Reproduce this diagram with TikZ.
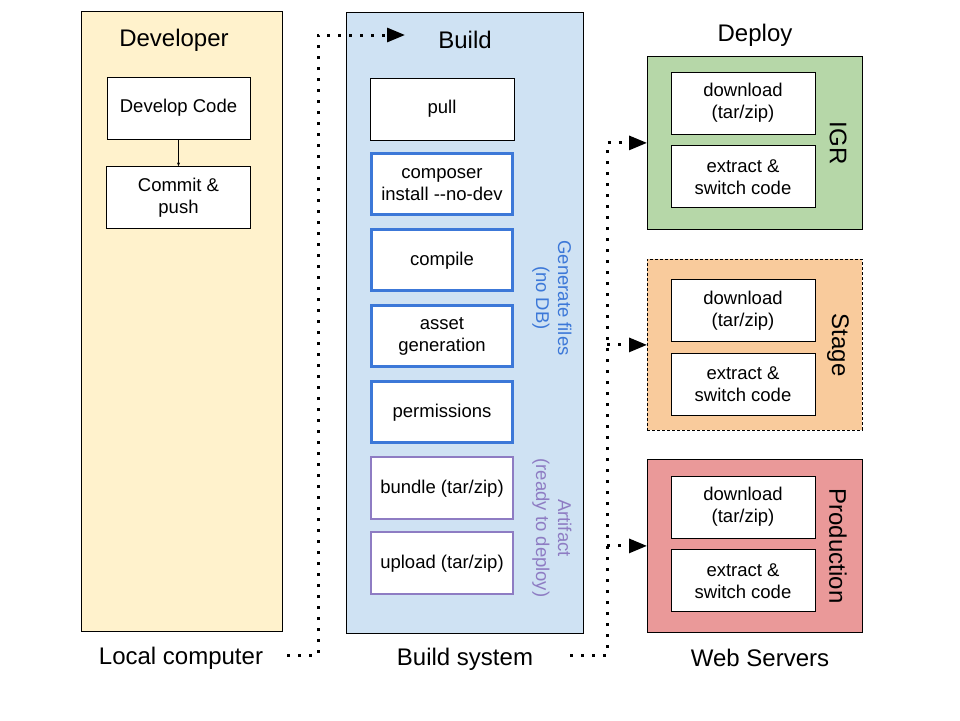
\documentclass[tikz,border=0pt]{standalone}
\usepackage{fontspec}
\setmainfont{Liberation Sans}
\usetikzlibrary{arrows.meta, positioning}
\definecolor{devyellow}{HTML}{FFF2CC}
\definecolor{buildblue}{HTML}{CFE2F3}
\definecolor{genblue}{HTML}{3C78D8}
\definecolor{artpurple}{HTML}{8E7CC3}
\definecolor{igrgreen}{HTML}{B6D7A8}
\definecolor{stageorange}{HTML}{F9CB9C}
\definecolor{prodred}{HTML}{EA9999}

\begin{document}
\begin{tikzpicture}[
    x=1pt, y=-1pt,
    node distance=12pt and 12pt,
    font=\fontsize{18.5}{22}\selectfont,
    panel/.style={draw, line width=0.8pt, anchor=north west, inner sep=0pt},
    step box/.style={draw, fill=white, line width=0.8pt, align=center, minimum width=144pt, minimum height=62pt, inner sep=0pt},
    gen box/.style={step box, draw=genblue, line width=3pt, minimum width=141pt, minimum height=61pt},
    art box/.style={step box, draw=artpurple, line width=2pt, minimum width=142pt, minimum height=62pt},
    title/.style={font=\fontsize{24}{28}\selectfont},
    side label/.style={rotate=-90, align=center},
    dot line/.style={line width=3pt, dash pattern=on 3pt off 8pt, -{Triangle[length=18pt, width=14pt]}}
]
    \useasboundingbox (0,0) rectangle (960,720);

    % Developer
    \node[panel, fill=devyellow, minimum width=201pt, minimum height=620pt] (devpanel) at (81,11) {};
    \node[title] (devtitle) at (174,40) {Developer};
    \node[step box, minimum width=143pt] (develop) at (178.5,108) {Develop Code};
    \node[step box, below=27pt of develop] (commit) {Commit \&\\push};
    \draw[-{Stealth[length=4pt, width=3pt]}, line width=0.6pt] (develop) -- (commit);
    \node[title] (local) at (181,658) {Local computer};

    % Build
    \node[panel, fill=buildblue, minimum width=237pt, minimum height=621pt] (buildpanel) at (346,12) {};
    \node[title] (buildtitle) at (465,40) {Build};
    \node[step box] (pull) at (442,109) {pull};
    \node[gen box, below=of pull] (composer) {composer\\install -{}-no-dev};
    \node[gen box, below=of composer] (compile) {compile};
    \node[gen box, below=of compile] (asset) {asset\\generation};
    \node[gen box, below=of asset] (perm) {permissions};
    \node[art box, below=of perm] (bundle) {bundle (tar/zip)};
    \node[art box, below=11pt of bundle] (upload) {upload (tar/zip)};
    \node[side label, text=genblue] (genlabel) at (552,298) {Generate files\\(no DB)};
    \node[side label, text=artpurple] (artlabel) at (552,528) {Artifact\\(ready to deploy)};
    \node[title] (buildsys) at (465,659) {Build system};

    % Deploy
    \node[title] (deploytitle) at (755,35) {Deploy};
    \node[panel, fill=igrgreen, minimum width=215pt, minimum height=173pt] (igr) at (647,56) {};
    \node[step box] (igrdown) at (743,103) {download\\(tar/zip)};
    \node[step box, below=11pt of igrdown] (igrext) {extract \&\\switch code};
    \node[side label, title] (igrlabel) at (838,143) {IGR};

    \node[panel, fill=stageorange, dash pattern=on 3pt off 2pt, minimum width=215pt, minimum height=171pt] (stage) at (647,259) {};
    \node[step box] (stagedown) at (743,310.5) {download\\(tar/zip)};
    \node[step box, below=11pt of stagedown] (stageext) {extract \&\\switch code};
    \node[side label, title] (stagelabel) at (838,345) {Stage};

    \node[panel, fill=prodred, minimum width=215pt, minimum height=173pt] (prod) at (647,459) {};
    \node[step box] (proddown) at (743,507) {download\\(tar/zip)};
    \node[step box, below=11pt of proddown] (prodext) {extract \&\\switch code};
    \node[side label, title] (prodlabel) at (838,546) {Production};
    \node[title] (websrv) at (760,658) {Web Servers};

    % Dotted connectors
    \coordinate (dev out) at (287,655);
    \coordinate (build in) at (405,35);
    \coordinate (build out) at (570,655);
    \coordinate (fork) at (607,655);
    \draw[dot line] (dev out) -- ++(31,0) |- (build in);
    \draw[dot line] (build out) -- (fork) |- (igr.west);
    \draw[dot line] (fork |- stage.west) -- (stage.west);
    \draw[dot line] (fork |- prod.west) -- (prod.west);
\end{tikzpicture}
\end{document}
